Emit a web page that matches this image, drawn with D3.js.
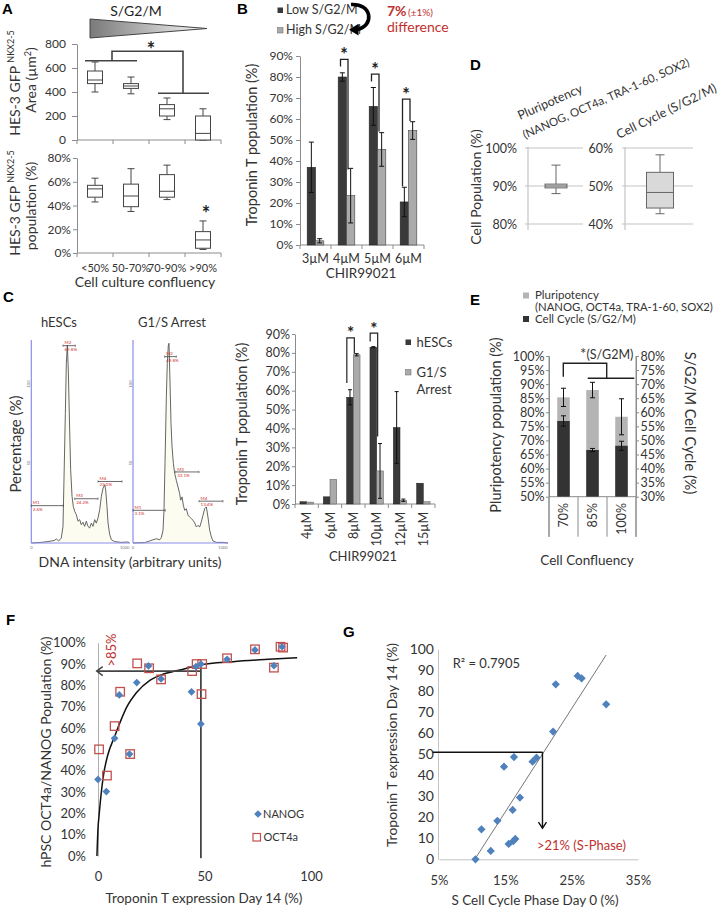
<!DOCTYPE html>
<html>
<head>
<meta charset="utf-8">
<script src="https://cdn.jsdelivr.net/npm/d3@7/dist/d3.min.js"></script>
<style>
  html,body{margin:0;padding:0;background:#fff;}
  svg{display:block;}
</style>
</head>
<body>
<svg id="fig" width="718" height="910"></svg>
<script>
// ================= DATA =================
// Panel A
const confluencyA = ["<50%", "50-70%", "70-90%", ">90%"];
const areaTicks = [0, 200, 400, 600, 800];
// [min, q1, median, q3, max]
const areaStats = [[400,470,500,575,650],[385,430,450,470,525],[170,200,260,295,350],[0,0,55,200,260]];
const gfpPopTicks = [0, 20, 40, 60, 80];
const gfpPopStats = [[43,47,54,57,63],[35,39,48,58,71],[45,47,52,66,74],[3,4,11,18,27]];

// Panel B
const chirB = ["3µM","4µM","5µM","6µM"];
const lowSG2M = [37, 80, 66, 20.5];
const lowSG2MErr = [12, 2, 9, 7];
const highSG2M = [2, 23.5, 45.5, 54.5];
const highSG2MErr = [1, 13, 8, 4.2];
const ticksB = [0,10,20,30,40,50,60,70,80,90];

// Panel C – flow histograms (channel 0-100, relative count 0-100)
const hescHistX = [0,10.2,16.9,23.7,25.4,27.8,30.5,32.2,33.2,34.6,35.6,36.6,37.6,39.0,40.0,41.4,42.7,44.1,45.8,47.5,49.2,50.8,52.5,54.2,55.9,57.6,59.3,61.0,62.7,64.4,66.1,67.8,69.5,71.2,72.9,74.6,75.6,76.9,78.0,79.7,81.4,84.7,91.5,98.3,100];
const hescHistY = [0,0.3,0.7,1.3,2.0,1.0,2.5,8.2,31.1,63.9,88.5,97.5,85.2,55.7,36.1,23.0,18.0,15.6,13.9,10.7,11.5,9.0,10.2,8.2,10.7,8.2,7.4,9.8,8.2,11.5,9.8,12.3,16.4,23.0,27.0,28.7,26.2,18.0,9.8,4.1,1.6,0.7,0.3,0.5,0];
const g1sHistX = [0,12.3,17.5,21.1,24.6,28.1,29.8,31.6,32.6,33.7,35.1,36.1,37.2,37.9,38.9,40.0,41.1,42.5,43.9,45.6,47.4,49.1,50.2,51.6,53.0,54.4,56.1,57.9,59.6,61.4,63.2,64.9,66.7,68.4,70.2,71.9,73.7,75.4,77.2,78.9,80.7,82.5,84.2,87.7,94.7,100];
const g1sHistY = [0,0.2,1.0,1.6,2.1,1.6,2.6,6.3,16.1,39.1,72.0,88.5,97.5,98.4,80.3,58.9,47.4,39.1,34.2,30.9,27.6,24.3,21.1,22.7,18.6,16.1,16.9,13.7,12.8,12.0,11.2,9.9,7.9,8.7,7.9,10.4,13.7,16.9,17.8,12.8,6.3,3.0,1.0,0.3,0.3,0];
const gateNames = ["M1","M2","M3","M4"];
const hescGateStart = [0, 32.2, 44.1, 67.8];
const hescGateEnd = [32.5, 44.7, 67.8, 92.2];
const hescGateLevel = [18.4, 97.2, 21.8, 30.3];
const hescGatePct = ["2.6%","69.8%","24.2%","23.0%"];
const g1sGateStart = [0, 33.3, 44.9, 69.5];
const g1sGateEnd = [34, 45.6, 69.5, 94.7];
const g1sGateLevel = [16.1, 91.8, 35, 20.6];
const g1sGatePct = ["3.1%","49.8%","33.1%","13.4%"];

// Panel C – bar chart
const chirC = ["4µM","6µM","8µM","10µM","12µM","15µM"];
const hescTnT = [1.2, 3.8, 56.5, 83, 40.5, 11];
const hescTnTErr = [0, 0, 4, 0.3, 19, 0];
const g1sTnT = [1, 13, 79, 17.5, 2, 1.2];
const g1sTnTErr = [0, 0, 0.6, 14.5, 0.6, 0];
const ticksC = [0,10,20,30,40,50,60,70,80,90];

// Panel D
const pluriBoxD = [88, 89.5, 90, 90.5, 95.5];
const cycleBoxD = [42.7, 44.2, 48.3, 53.6, 58.2];
const ticksD1 = [80, 90, 100];
const ticksD2 = [40, 50, 60];

// Panel E
const confE = ["70%","85%","100%"];
const pluriE = [85.3, 87.9, 78.4];
const pluriEErr = [3.25, 2.75, 6.4];
const cycleE = [56.9, 46.6, 48.1];
const cycleEErr = [1.85, 0.55, 1.6];
const ticksEL = [50,55,60,65,70,75,80,85,90,95,100];
const ticksER = [30,35,40,45,50,55,60,65,70,75,80];

// Panel F
const nanogX = [0, 3.9, 7.8, 10, 14.8, 18.2, 23.7, 29.6, 43.9, 46, 48.3, 48.3, 60.6, 73.7, 82.6, 86.4];
const nanogY = [35.9, 30.2, 55.2, 75.5, 47.8, 81.3, 89.1, 83, 77, 88.8, 90, 61.9, 92.2, 96.6, 89.2, 98.1];
const oct4X = [0.5, 4.2, 7.8, 10.4, 15.1, 18.4, 24, 29.6, 44.2, 46.3, 48.9, 48.6, 60.6, 73.7, 82.6, 85.7, 86.9];
const oct4Y = [50, 37.7, 60.9, 77, 47.8, 90.3, 88, 82.8, 86.7, 90, 90, 75.9, 92.7, 96.9, 88.3, 98.1, 97.7];
const fitX = [-0.5, 0, 0.5, 1.1, 2.6, 4.5, 7.8, 10.5, 13.6, 18, 24.5, 30, 38.5, 47.8, 63.4, 80, 93.5];
const fitY = [0, 13, 19, 25.5, 38, 47, 56, 63, 70, 76.5, 82.5, 85, 87.2, 89.5, 91.1, 92.2, 93];
const ticksFY = [0,10,20,30,40,50,60,70,80,90,100];
const ticksFX = [0, 50, 100];

// Panel G
const sPhase = [10.5, 11.4, 12.8, 13.8, 14.8, 15.5, 16.1, 16.2, 16.5, 16.3, 17.2, 19.1, 19.7, 22.2, 22.6, 25.9, 26.5, 30.2];
const tntDay14 = [0, 14.3, 4, 18.3, 44.1, 7.3, 23.5, 8.7, 9.7, 48.7, 29.4, 46.5, 48.4, 60.8, 83.3, 87.3, 86.2, 73.8];
const trendX = [10.4, 30.2];
const trendY = [0, 97.3];
const ticksGY = [0,10,20,30,40,50,60,70,80,90,100];
const ticksGX = [5, 15, 25, 35];

// ================= DRAWING =================
const FONT = "Lato, 'Open Sans', sans-serif";
const AX = "#8c8c8c", TXT = "#333", DARK = "#3a3a3a", LIGHT = "#aaaaaa", RED = "#c0302e";
const BLUE = "#4f81bd", OCTRED = "#c0504d";
const svg = d3.select("#fig").attr("font-family", FONT);
svg.append("rect").attr("width", 718).attr("height", 910).attr("fill", "#fff");

function text(g, x, y, s, o = {}) {
  const t = g.append("text").attr("x", x).attr("y", y).text(s)
    .attr("font-size", o.size || 12).attr("fill", o.fill || TXT)
    .attr("text-anchor", o.anchor || "start").attr("font-family", o.family || FONT);
  if (o.weight) t.attr("font-weight", o.weight);
  if (o.rotate != null) t.attr("transform", `rotate(${o.rotate},${x},${y})`);
  return t;
}
function panelLabel(x, y, s) {
  text(svg, x, y, s, {size: 15, weight: "bold", family: "'Liberation Sans', Arial, sans-serif", fill: "#000"});
}
function line(g, x1, y1, x2, y2, stroke, w) {
  return g.append("line").attr("x1", x1).attr("y1", y1).attr("x2", x2).attr("y2", y2)
    .attr("stroke", stroke || AX).attr("stroke-width", w || 1);
}
function styleAxis(a, size) {
  a.select(".domain").attr("stroke", AX);
  a.selectAll(".tick line").attr("stroke", AX);
  a.selectAll(".tick text").attr("fill", TXT).attr("font-size", size).attr("font-family", FONT);
  return a;
}
function leftAxis(g, x0, scale, ticks, fmt, size, tl, pad) {
  const a = g.append("g").attr("transform", `translate(${x0},0)`)
    .call(d3.axisLeft(scale).tickValues(ticks).tickFormat(fmt).tickSize(tl).tickSizeOuter(0).tickPadding(pad));
  return styleAxis(a, size);
}
function bandBase(g, x, y0, len) {
  const r = x.range();
  line(g, r[0], y0, r[1], y0);
  x.domain().map(d => x(d)).concat([r[1]]).forEach(b => line(g, b, y0, b, y0 + len));
}
function boxPlot(g, x, y, stats, w, cap, fill) {
  x.domain().forEach((c, i) => {
    const [mn, q1, md, q3, mx] = stats[i];
    const cx = x(c) + x.bandwidth() / 2;
    line(g, cx, y(mn), cx, y(q1), "#444");
    line(g, cx, y(q3), cx, y(mx), "#444");
    line(g, cx - cap / 2, y(mn), cx + cap / 2, y(mn), "#444");
    line(g, cx - cap / 2, y(mx), cx + cap / 2, y(mx), "#444");
    g.append("rect").attr("x", cx - w / 2).attr("y", y(q3)).attr("width", w).attr("height", y(q1) - y(q3))
      .attr("fill", fill).attr("stroke", "#444");
    line(g, cx - w / 2, y(md), cx + w / 2, y(md), "#444");
  });
}
function errBar(g, cx, y, v, e, cap) {
  if (!e) return;
  line(g, cx, y(v - e), cx, y(v + e), "#111");
  line(g, cx - cap / 2, y(v - e), cx + cap / 2, y(v - e), "#111");
  line(g, cx - cap / 2, y(v + e), cx + cap / 2, y(v + e), "#111");
}
function star(g, x, y, size) {
  text(g, x, y, "*", {size: size || 20, anchor: "middle", weight: "bold", fill: "#222"});
}

// ---------- Panel A ----------
const A = svg.append("g");
panelLabel(2, 14, "A");
const grad = svg.append("defs").append("linearGradient").attr("id", "triGrad");
grad.append("stop").attr("offset", "0%").attr("stop-color", "#7a7a7a");
grad.append("stop").attr("offset", "100%").attr("stop-color", "#f7f7f7");
A.append("path").attr("d", "M90,19 L90,38 L207,28.5 Z").attr("fill", "url(#triGrad)").attr("stroke", "#444");
text(A, 136, 16, "S/G2/M", {size: 14, anchor: "middle", fill: "#222"});

const xA = d3.scaleBand().domain(confluencyA).range([77, 221]);
const yArea = d3.scaleLinear().domain([0, 800]).range([140, 44]);
const yGfp = d3.scaleLinear().domain([0, 80]).range([253, 158]);
leftAxis(A, 77, yArea, areaTicks, d3.format("d"), 12, 5, 6);
bandBase(A, xA, 140, 4);
boxPlot(A, xA, yArea, areaStats, 15, 7, "#fff");
leftAxis(A, 77, yGfp, gfpPopTicks, d => d + "%", 12, 4, 2);
bandBase(A, xA, 253, 4);
boxPlot(A, xA, yGfp, gfpPopStats, 15, 7, "#fff");
// significance bracket (top)
A.append("path").attr("fill", "none").attr("stroke", "#444").attr("stroke-width", 1.6)
  .attr("d", `M85,${yArea(660)} H137 M112,${yArea(660)} V${yArea(740)} H183 V${yArea(390)} M158,${yArea(390)} H209`);
star(A, 151, 57, 20);
star(A, 206, 221, 20);
A.selectAll(".catA").data(confluencyA).join("text")
  .attr("x", d => xA(d) + xA.bandwidth() / 2).attr("y", 271.5).attr("text-anchor", "middle")
  .attr("font-size", 11).attr("fill", TXT).text(d => d);
text(A, 145, 287, "Cell culture confluency", {size: 14, anchor: "middle"});
function gfpTitle(x, y) {
  const t = A.append("text").attr("transform", `translate(${x},${y}) rotate(-90)`)
    .attr("text-anchor", "middle").attr("font-size", 14).attr("fill", TXT);
  t.append("tspan").text("HES-3 GFP ");
  t.append("tspan").text("NKX2-5").attr("font-size", 9).attr("dy", -6);
}
gfpTitle(20, 83);
gfpTitle(20, 203);
const at = A.append("text").attr("transform", "translate(36,80) rotate(-90)").attr("text-anchor", "middle")
  .attr("font-size", 14).attr("fill", TXT);
at.append("tspan").text("Area (µm");
at.append("tspan").text("2").attr("font-size", 9).attr("dy", -5);
at.append("tspan").text(")").attr("dy", 5);
A.append("text").attr("transform", "translate(35.5,206) rotate(-90)").attr("text-anchor", "middle")
  .attr("font-size", 14).attr("fill", TXT).text("population (%)");

// ---------- Panel B ----------
const B = svg.append("g");
panelLabel(237, 14, "B");
const xB = d3.scaleBand().domain(chirB).range([300, 424]);
const yB = d3.scaleLinear().domain([0, 90]).range([245, 56]);
leftAxis(B, 300, yB, ticksB, d => d + "%", 12, 4, 3);
bandBase(B, xB, 245, 4);
const bwB = 8.3;
chirB.forEach((c, i) => {
  const cx = xB(c) + xB.bandwidth() / 2;
  B.append("rect").attr("x", cx - bwB).attr("y", yB(lowSG2M[i])).attr("width", bwB).attr("height", yB(0) - yB(lowSG2M[i]))
    .attr("fill", DARK).attr("stroke", "#222").attr("stroke-width", 0.6);
  B.append("rect").attr("x", cx).attr("y", yB(highSG2M[i])).attr("width", bwB).attr("height", yB(0) - yB(highSG2M[i]))
    .attr("fill", LIGHT).attr("stroke", "#444").attr("stroke-width", 0.6);
  errBar(B, cx - bwB / 2, yB, lowSG2M[i], lowSG2MErr[i], 5);
  errBar(B, cx + bwB / 2, yB, highSG2M[i], highSG2MErr[i], 5);
});
// significance brackets [category, left-leg bottom, top, right-leg bottom]
[["4µM", 85, 88.4, 36], ["5µM", 77.8, 81.4, 54], ["6µM", 28, 69.5, 59]].forEach(([c, l, t, r]) => {
  const cx = xB(c) + xB.bandwidth() / 2;
  B.append("path").attr("fill", "none").attr("stroke", "#222").attr("stroke-width", 1.3)
    .attr("d", `M${cx - 6},${yB(l)} V${yB(t)} H${cx + 1.5} V${yB(r)}`);
  star(B, cx - 2.5, yB(t) + 2, 18);
});
B.selectAll(".catB").data(chirB).join("text")
  .attr("x", d => xB(d) + xB.bandwidth() / 2).attr("y", 263).attr("text-anchor", "middle")
  .attr("font-size", 12.5).attr("fill", TXT).text(d => d);
text(B, 361, 278, "CHIR99021", {size: 13.5, anchor: "middle"});
text(B, 257, 145, "Troponin T population (%)", {size: 14.5, anchor: "middle", rotate: -90});
// legend
B.append("rect").attr("x", 277.5).attr("y", 7.5).attr("width", 5.5).attr("height", 5.5).attr("fill", DARK);
B.append("rect").attr("x", 277.5).attr("y", 27.5).attr("width", 5.5).attr("height", 5.5).attr("fill", LIGHT).attr("stroke", "#666").attr("stroke-width", 0.5);
text(B, 286, 13.5, "Low S/G2/M", {size: 12.5});
text(B, 286, 33.5, "High S/G2/M", {size: 12.5});
B.append("path").attr("fill", "none").attr("stroke", "#000").attr("stroke-width", 3.6)
  .attr("d", "M351,4.5 C372,3 375,26 357,29.5");
B.append("path").attr("fill", "#000").attr("d", "M349,29.8 L358.5,23.8 L358.5,35.5 Z");
text(B, 387, 16, "7%", {size: 14, weight: "bold", fill: RED});
text(B, 408, 15.5, "(±1%)", {size: 10, fill: RED});
text(B, 387, 32, "difference", {size: 14, fill: RED});

// ---------- Panel C : histograms ----------
const C = svg.append("g");
panelLabel(3, 302, "C");
const hy = d3.scaleLinear().domain([0, 100]).range([543, 340]);
function histogram(x0, x1, xs, ys, gs, ge, gl, gp, title, tx) {
  const hx = d3.scaleLinear().domain([0, 100]).range([x0, x1]);
  const pts = xs.map((v, i) => [v, ys[i]]);
  C.append("path").datum(pts).attr("fill", "#fdfcf1")
    .attr("d", d3.area().x(d => hx(d[0])).y0(hy(0)).y1(d => hy(d[1])));
  C.append("path").datum(pts).attr("fill", "none").attr("stroke", "#555").attr("stroke-width", 0.9)
    .attr("d", d3.line().x(d => hx(d[0])).y(d => hy(d[1])));
  line(C, x0, 340, x0, hy(0), "#8a8cf0", 1.2);
  line(C, x0, hy(0), x1, hy(0), "#8a8cf0", 1.2);
  gateNames.forEach((n, i) => {
    const ya = hy(gl[i]);
    line(C, hx(gs[i]), ya, hx(ge[i]), ya, "#444", 0.8);
    line(C, hx(gs[i]), ya - 1.2, hx(gs[i]), ya + 1.2, "#444", 0.6);
    line(C, hx(ge[i]), ya - 1.2, hx(ge[i]), ya + 1.2, "#444", 0.6);
    text(C, hx(gs[i]) + 1.5, ya - 1.3, n, {size: 4.5, fill: "#d03030"});
    text(C, hx(gs[i]) + 1.5, ya + 5, gp[i], {size: 4.5, fill: "#d03030"});
  });
  text(C, x0, hy(0) + 6, "0", {size: 4, anchor: "middle", fill: "#777"});
  text(C, x1 - 5, hy(0) + 6, "1000", {size: 4, anchor: "middle", fill: "#777"});
  text(C, x0 - 1.5, 384, "100", {size: 4, anchor: "middle", fill: "#777", rotate: -90});
  text(C, x0 - 1.5, 463, "50", {size: 4, anchor: "middle", fill: "#777", rotate: -90});
  text(C, tx, 327, title, {size: 13, anchor: "middle"});
}
histogram(31.3, 129.7, hescHistX, hescHistY, hescGateStart, hescGateEnd, hescGateLevel, hescGatePct, "hESCs", 59);
histogram(133, 228, g1sHistX, g1sHistY, g1sGateStart, g1sGateEnd, g1sGateLevel, g1sGatePct, "G1/S Arrest", 172);
text(C, 21, 444, "Percentage (%)", {size: 15, anchor: "middle", rotate: -90});
text(C, 130, 567, "DNA intensity (arbitrary units)", {size: 14, anchor: "middle"});

// ---------- Panel C : bar chart ----------
const xC = d3.scaleBand().domain(chirC).range([295, 435]);
const yC = d3.scaleLinear().domain([0, 90]).range([504, 334]);
leftAxis(C, 295, yC, ticksC, d => d + "%", 12.5, 3, 2);
bandBase(C, xC, 504, 4);
const bwC = 6.7;
chirC.forEach((c, i) => {
  const cx = xC(c) + xC.bandwidth() / 2;
  C.append("rect").attr("x", cx - bwC).attr("y", yC(hescTnT[i])).attr("width", bwC).attr("height", yC(0) - yC(hescTnT[i]))
    .attr("fill", DARK).attr("stroke", "#222").attr("stroke-width", 0.5);
  C.append("rect").attr("x", cx).attr("y", yC(g1sTnT[i])).attr("width", bwC).attr("height", yC(0) - yC(g1sTnT[i]))
    .attr("fill", LIGHT).attr("stroke", "#555").attr("stroke-width", 0.5);
  errBar(C, cx - bwC / 2, yC, hescTnT[i], hescTnTErr[i], 4);
  errBar(C, cx + bwC / 2, yC, g1sTnT[i], g1sTnTErr[i], 4);
});
[["8µM", 64, 87.9, 79.5], ["10µM", 86, 90.5, 35.8]].forEach(([c, l, t, r]) => {
  const cx = xC(c) + xC.bandwidth() / 2;
  C.append("path").attr("fill", "none").attr("stroke", "#222").attr("stroke-width", 1.2)
    .attr("d", `M${cx - 6.5},${yC(l)} V${yC(t)} H${cx + 1} V${yC(r)}`);
  star(C, cx - 2.8, yC(t) + 1.5, 17);
});
C.selectAll(".catC").data(chirC).join("text")
  .attr("transform", d => `translate(${xC(d) + xC.bandwidth() / 2 + 4.5},512) rotate(-90)`)
  .attr("text-anchor", "end").attr("font-size", 12.5).attr("fill", TXT).text(d => d);
text(C, 363, 561, "CHIR99021", {size: 13, anchor: "middle"});
text(C, 247, 424, "Troponin T population (%)", {size: 14.5, anchor: "middle", rotate: -90});
C.append("rect").attr("x", 405.5).attr("y", 339.5).attr("width", 5.5).attr("height", 5.5).attr("fill", DARK);
C.append("rect").attr("x", 405.5).attr("y", 369.5).attr("width", 5.5).attr("height", 5.5).attr("fill", LIGHT).attr("stroke", "#666").attr("stroke-width", 0.5);
text(C, 416.5, 347, "hESCs", {size: 13});
text(C, 416.5, 377, "G1/S", {size: 13});
text(C, 416.5, 394, "Arrest", {size: 13});

// ---------- Panel D ----------
const D = svg.append("g");
panelLabel(470, 70, "D");
const yD1 = d3.scaleLinear().domain([80, 100]).range([224, 148]);
const yD2 = d3.scaleLinear().domain([40, 60]).range([224, 148]);
function dPlot(x0, x1, y, ticks, stats, cx, w, lblX) {
  ticks.forEach(t => {
    line(D, x0 - 3, y(t), x1, y(t), "#c4c4c4", 1.2);
    text(D, lblX, y(t) + 4.5, t + "%", {size: 12.5, anchor: "end"});
  });
  line(D, x0, 147, x0, 230, "#c4c4c4", 1.2);
  const [mn, q1, md, q3, mx] = stats;
  line(D, cx, y(mn), cx, y(q1), "#666");
  line(D, cx, y(q3), cx, y(mx), "#666");
  line(D, cx - 4.5, y(mn), cx + 4.5, y(mn), "#666");
  line(D, cx - 4.5, y(mx), cx + 4.5, y(mx), "#666");
  D.append("rect").attr("x", cx - w / 2).attr("y", y(q3)).attr("width", w).attr("height", y(q1) - y(q3))
    .attr("fill", "#d9d9d9").attr("stroke", "#666");
  line(D, cx - w / 2, y(md), cx + w / 2, y(md), "#666");
}
dPlot(528, 583, yD1, ticksD1, pluriBoxD, 556, 22, 517);
dPlot(625, 693, yD2, ticksD2, cycleBoxD, 660, 27, 613);
text(D, 520, 120, "Pluripotency", {size: 12.5, rotate: -24});
text(D, 525, 139, "(NANOG, OCT4a, TRA-1-60, SOX2)", {size: 11.5, rotate: -24});
text(D, 619, 139, "Cell Cycle (S/G2/M)", {size: 12.5, rotate: -26});
text(D, 481, 187, "Cell Population (%)", {size: 14, anchor: "middle", rotate: -90});

// ---------- Panel E ----------
const E = svg.append("g");
panelLabel(470, 305, "E");
const xE = d3.scaleBand().domain(confE).range([549, 636]);
const yEL = d3.scaleLinear().domain([50, 100]).range([496.7, 356]);
const yER = d3.scaleLinear().domain([30, 80]).range([496.7, 356]);
leftAxis(E, 549, yEL, ticksEL, d => d + "%", 12.5, 3, 1.5);
const er = E.append("g").attr("transform", "translate(636,0)")
  .call(d3.axisRight(yER).tickValues(ticksER).tickFormat(d => d + "%").tickSize(3).tickSizeOuter(0).tickPadding(1.5));
styleAxis(er, 12.5);
line(E, 549, 356, 549, 537);
line(E, 636, 356, 636, 537);
bandBase(E, xE, 496.7, 40);
const bwE = 12.5;
confE.forEach((c, i) => {
  const cx = xE(c) + xE.bandwidth() / 2;
  E.append("rect").attr("x", cx - bwE / 2).attr("y", yEL(pluriE[i])).attr("width", bwE).attr("height", yEL(50) - yEL(pluriE[i]))
    .attr("fill", "#b4b4b4");
  E.append("rect").attr("x", cx - bwE / 2).attr("y", yER(cycleE[i])).attr("width", bwE).attr("height", yER(30) - yER(cycleE[i]))
    .attr("fill", "#333");
  errBar(E, cx, yEL, pluriE[i], pluriEErr[i], 5);
  errBar(E, cx, yER, cycleE[i], cycleEErr[i], 5);
});
E.append("path").attr("fill", "none").attr("stroke", "#222").attr("stroke-width", 1.4)
  .attr("d", "M563.3,376.7 V363.3 H606.7 V378.3 M587.7,378.3 H634.3");
const st = E.append("text").attr("x", 580).attr("y", 359).attr("font-size", 12.5).attr("fill", TXT);
st.append("tspan").text("*").attr("font-size", 15);
st.append("tspan").text("(S/G2M)");
E.selectAll(".catE").data(confE).join("text")
  .attr("transform", d => `translate(${xE(d) + xE.bandwidth() / 2 + 4.5},503) rotate(-90)`)
  .attr("text-anchor", "end").attr("font-size", 12.5).attr("fill", TXT).text(d => d);
text(E, 587, 565, "Cell Confluency", {size: 13.5, anchor: "middle"});
text(E, 501, 425, "Pluripotency population (%)", {size: 14.5, anchor: "middle", rotate: -90});
text(E, 685, 423, "S/G2/M Cell Cycle (%)", {size: 14.5, anchor: "middle", rotate: 90});
E.append("rect").attr("x", 523).attr("y", 292.5).attr("width", 6).attr("height", 6).attr("fill", "#b4b4b4");
E.append("rect").attr("x", 523).attr("y", 316).attr("width", 6).attr("height", 6).attr("fill", "#333");
text(E, 535, 299, "Pluripotency", {size: 11.5});
text(E, 535, 311, "(NANOG, OCT4a, TRA-1-60, SOX2)", {size: 11.3});
text(E, 535, 323, "Cell Cycle (S/G2/M)", {size: 11.5});

// ---------- Panel F ----------
const F = svg.append("g");
panelLabel(6, 625, "F");
const xF = d3.scaleLinear().domain([0, 100]).range([98, 311]);
const yF = d3.scaleLinear().domain([0, 100]).range([856, 642.7]);
const fy = F.append("g").attr("transform", "translate(98,0)")
  .call(d3.axisLeft(yF).tickValues(ticksFY).tickFormat(d => d + "%").tickSize(0).tickPadding(12));
styleAxis(fy, 13);
fy.select(".domain").attr("stroke", "#b0b0b0");
const fx = F.append("g").attr("transform", "translate(0,856)")
  .call(d3.axisBottom(xF).tickValues(ticksFX).tickSize(0).tickPadding(16));
styleAxis(fx, 13);
fx.select(".domain").remove();
// fitted curve
F.append("path").datum(fitX.map((v, i) => [v, fitY[i]])).attr("fill", "none").attr("stroke", "#111").attr("stroke-width", 1.5)
  .attr("d", d3.line().curve(d3.curveMonotoneX).x(d => xF(d[0])).y(d => yF(d[1])));
// threshold lines
line(F, xF(48.3), yF(-1), xF(48.3), yF(91), "#444", 1.8);
line(F, xF(48.3), yF(86.7), xF(-0.6), yF(86.7), "#444", 1.8);
F.append("path").attr("fill", "none").attr("stroke", "#444").attr("stroke-width", 1.5)
  .attr("d", `M${xF(-0.6) + 6},${yF(86.7) - 4.5} L${xF(-0.6)},${yF(86.7)} L${xF(-0.6) + 6},${yF(86.7) + 4.5}`);
const sq = 8.5;
F.selectAll(".oct").data(oct4X).join("rect")
  .attr("x", (d, i) => xF(d) - sq / 2).attr("y", (d, i) => yF(oct4Y[i]) - sq / 2)
  .attr("width", sq).attr("height", sq).attr("fill", "none").attr("stroke", OCTRED).attr("stroke-width", 1.3);
const diamond = d3.symbol().type(d3.symbolSquare).size(30)();
F.selectAll(".nan").data(nanogX).join("path")
  .attr("d", diamond).attr("fill", BLUE)
  .attr("transform", (d, i) => `translate(${xF(d)},${yF(nanogY[i])}) rotate(45)`);
text(F, 116, 650, ">85%", {size: 13, anchor: "middle", rotate: -90, fill: RED});
F.append("path").attr("d", diamond).attr("fill", BLUE).attr("transform", "translate(258,814) rotate(45)");
text(F, 263, 818, "NANOG", {size: 11});
F.append("rect").attr("x", 253).attr("y", 833.5).attr("width", 7.5).attr("height", 7.5)
  .attr("fill", "none").attr("stroke", OCTRED).attr("stroke-width", 1.2);
text(F, 263.5, 841, "OCT4a", {size: 11});
text(F, 204, 903, "Troponin T expression Day 14 (%)", {size: 13.5, anchor: "middle"});
text(F, 51, 752, "hPSC OCT4a/NANOG Population (%)", {size: 14, anchor: "middle", rotate: -90});

// ---------- Panel G ----------
const G = svg.append("g");
panelLabel(343, 637, "G");
const xG = d3.scaleLinear().domain([5, 35]).range([439, 638]);
const yG = d3.scaleLinear().domain([0, 100]).range([859.3, 649.3]);
const gy = G.append("g").attr("transform", "translate(438,0)")
  .call(d3.axisLeft(yG).tickValues(ticksGY).tickSize(0).tickPadding(4));
styleAxis(gy, 14);
gy.select(".domain").attr("stroke", "#c4c4c4");
const gx = G.append("g").attr("transform", "translate(0,859.3)")
  .call(d3.axisBottom(xG).tickValues(ticksGX).tickFormat(d => d + "%").tickSize(0).tickPadding(16));
styleAxis(gx, 13);
gx.select(".domain").attr("stroke", "#c4c4c4");
G.append("path").datum(trendX.map((v, i) => [v, trendY[i]])).attr("fill", "none").attr("stroke", "#666").attr("stroke-width", 0.9)
  .attr("d", d3.line().x(d => xG(d[0])).y(d => yG(d[1])));
line(G, xG(4.05), yG(51), xG(20.6), yG(51), "#111", 1.4);
line(G, xG(20.6), yG(51), xG(20.6), yG(14.8), "#111", 1.4);
G.append("path").attr("fill", "none").attr("stroke", "#111").attr("stroke-width", 1.4)
  .attr("d", `M${xG(20.6) - 4},${yG(14.8) - 6} L${xG(20.6)},${yG(14.8)} L${xG(20.6) + 4},${yG(14.8) - 6}`);
const diamondG = d3.symbol().type(d3.symbolSquare).size(34)();
G.selectAll(".gpt").data(sPhase).join("path")
  .attr("d", diamondG).attr("fill", BLUE)
  .attr("transform", (d, i) => `translate(${xG(d)},${yG(tntDay14[i])}) rotate(45)`);
text(G, 452.7, 667.5, "R² = 0.7905", {size: 13});
text(G, 537, 850, ">21% (S-Phase)", {size: 13, fill: RED});
text(G, 535, 905, "S Cell Cycle Phase Day 0 (%)", {size: 13.5, anchor: "middle"});
text(G, 397, 745, "Troponin T expression Day 14 (%)", {size: 14, anchor: "middle", rotate: -90});
</script>
</body>
</html>
